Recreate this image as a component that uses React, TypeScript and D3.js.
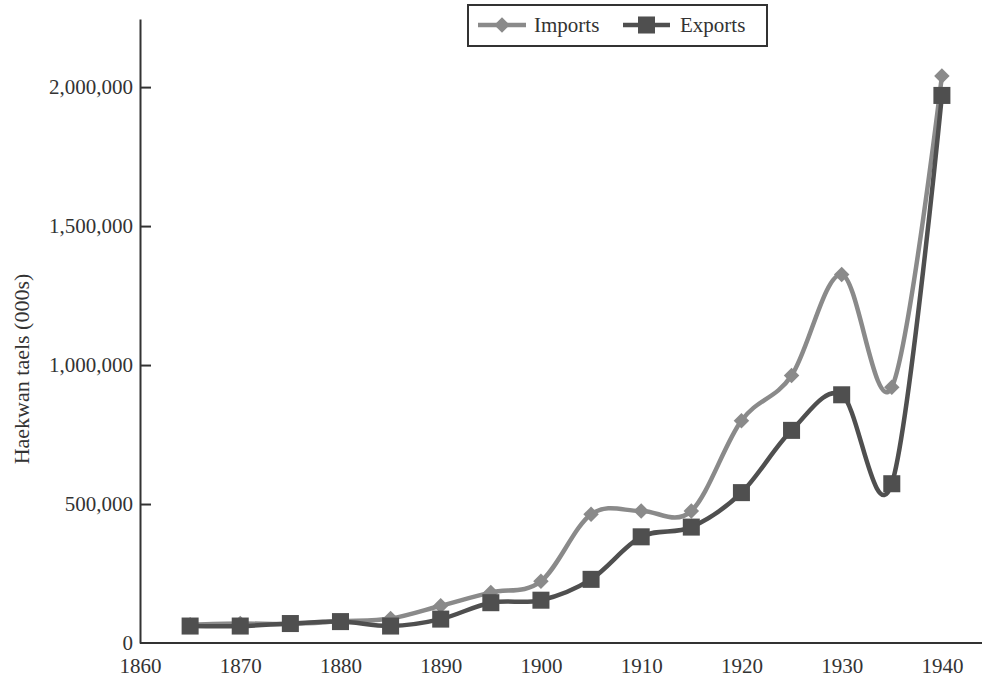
import { useEffect, useRef } from 'react'
import * as d3 from 'd3'

const years = [1865, 1870, 1875, 1880, 1885, 1890, 1895, 1900, 1905, 1910, 1915, 1920, 1925, 1930, 1935, 1940]
const imports = [66000, 70000, 69000, 78000, 88000, 134000, 182000, 222000, 463000, 475000, 475000, 800000, 962000, 1326000, 920000, 2040000]
const exports = [61000, 61000, 70000, 77000, 61000, 86000, 145000, 154000, 229000, 382000, 417000, 541000, 765000, 893000, 573000, 1970000]

const xTicks = [1860, 1870, 1880, 1890, 1900, 1910, 1920, 1930, 1940]
const yTicks = [0, 500000, 1000000, 1500000, 2000000]

const FONT = '"Liberation Serif", "DejaVu Serif", serif'
const IMPORT_COLOR = '#8a8a8a'
const EXPORT_COLOR = '#4f4f4f'

export default function App() {
  const svgRef = useRef<SVGSVGElement>(null)

  useEffect(() => {
    const svg = d3.select(svgRef.current!)
    svg.selectAll('*').remove()

    const x = d3.scaleLinear().domain([1860, 1944]).range([140, 982])
    const y = d3.scaleLinear().domain([0, 2245000]).range([643, 19])

    const line = d3.line<number>()
      .x((_, i) => x(years[i]))
      .y(d => y(d))
      .curve(d3.curveCardinal.tension(0))

    // X axis
    const xAxisG = svg.append('g').attr('transform', `translate(0,${y(0)})`)
    xAxisG.call(d3.axisBottom(x).tickValues(xTicks).tickSize(0).tickPadding(15).tickFormat(d => String(d)))
    xAxisG.select('.domain').attr('d', `M${x(1860)},0H${x(1944)}`).style('stroke', '#333').style('stroke-width', '2')
    xAxisG.selectAll('text').style('font-family', FONT).style('font-size', '21px').style('fill', '#333')

    // Y axis, ticks pointing inward
    const yAxisG = svg.append('g').attr('transform', `translate(${x(1860)},0)`)
    yAxisG.call(
      d3.axisLeft(y)
        .tickValues(yTicks)
        .tickSizeInner(-11)
        .tickSizeOuter(0)
        .tickPadding(7)
        .tickFormat(d => d3.format(',')(d as number)),
    )
    yAxisG.select('.domain').style('stroke', '#333').style('stroke-width', '2')
    yAxisG.selectAll('.tick line').style('stroke', '#333').style('stroke-width', '2')
      .filter(d => d === 0).remove()
    yAxisG.selectAll('text').style('font-family', FONT).style('font-size', '21px').style('fill', '#333')

    // Y axis label
    svg.append('text')
      .attr('transform', 'rotate(-90)')
      .attr('x', -369)
      .attr('y', 29)
      .attr('text-anchor', 'middle')
      .style('font-family', FONT)
      .style('font-size', '22px')
      .style('fill', '#333')
      .text('Haekwan taels (000s)')

    // Lines
    svg.append('path').datum(imports).attr('d', line)
      .attr('fill', 'none').style('stroke', IMPORT_COLOR).style('stroke-width', '4.5')
    svg.append('path').datum(exports).attr('d', line)
      .attr('fill', 'none').style('stroke', EXPORT_COLOR).style('stroke-width', '4.5')

    const diamond = d3.symbol(d3.symbolSquare, 120)()
    const square = d3.symbol(d3.symbolSquare, 290)()

    svg.append('g').selectAll('path').data(imports).join('path')
      .attr('d', diamond)
      .attr('transform', (d, i) => `translate(${x(years[i])},${y(d)}) rotate(45)`)
      .style('fill', IMPORT_COLOR)

    svg.append('g').selectAll('path').data(exports).join('path')
      .attr('d', square)
      .attr('transform', (d, i) => `translate(${x(years[i])},${y(d)})`)
      .style('fill', EXPORT_COLOR)

    // Legend
    const lg = svg.append('g')
    lg.append('rect').attr('x', 468).attr('y', 5).attr('width', 299).attr('height', 41)
      .attr('fill', 'white').style('stroke', '#333').style('stroke-width', '2')
    const items = [
      { label: 'Imports', color: IMPORT_COLOR, sym: diamond, rot: 45, x0: 478, x1: 526, tx: 534 },
      { label: 'Exports', color: EXPORT_COLOR, sym: square, rot: 0, x0: 623, x1: 670, tx: 680 },
    ]
    items.forEach(it => {
      lg.append('line').attr('x1', it.x0).attr('x2', it.x1).attr('y1', 25).attr('y2', 25)
        .style('stroke', it.color).style('stroke-width', '4.5')
      lg.append('path').attr('d', it.sym)
        .attr('transform', `translate(${(it.x0 + it.x1) / 2},25) rotate(${it.rot})`)
        .style('fill', it.color)
      lg.append('text').attr('x', it.tx).attr('y', 32)
        .style('font-family', FONT).style('font-size', '21px').style('fill', '#333')
        .text(it.label)
    })
  }, [])

  return (
    <div style={{ position: 'absolute', left: 0, top: 0 }}>
      <svg ref={svgRef} width={984} height={679} style={{ display: 'block', background: 'white' }} />
    </div>
  )
}
